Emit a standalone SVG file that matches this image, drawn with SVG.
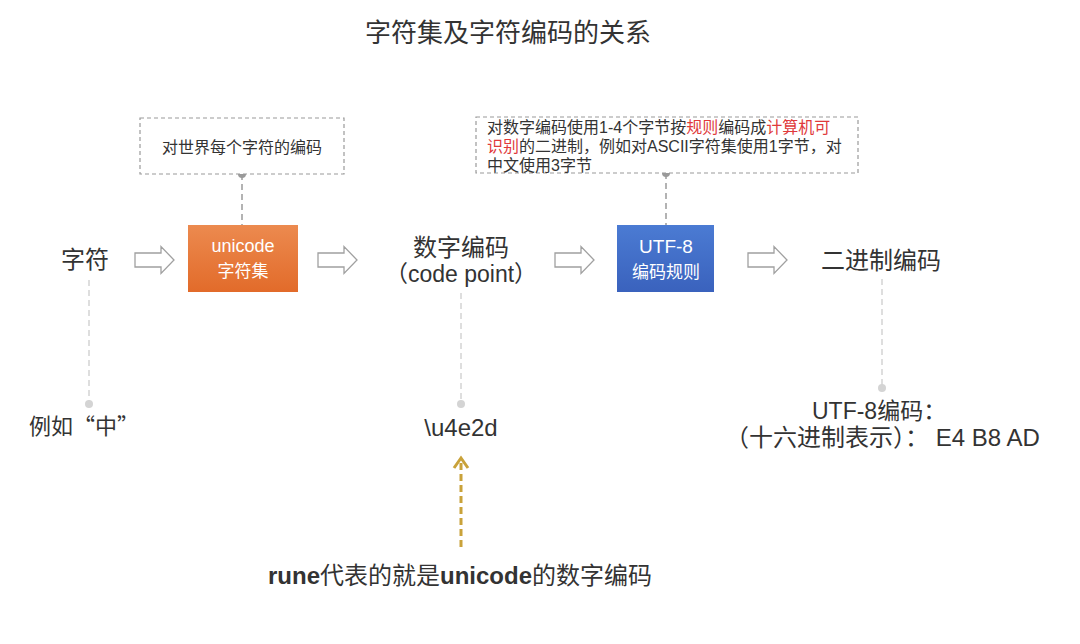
<svg xmlns="http://www.w3.org/2000/svg" width="1080" height="644" viewBox="0 0 1080 644">
<style>
text{font-family:"Liberation Sans","Noto Sans CJK SC",sans-serif;fill:#333}
.cjk{font-family:"Noto Sans CJK SC","Liberation Sans",sans-serif}
.note{fill:#fff;stroke:#9a9a9a;stroke-width:1.2;stroke-dasharray:4 3}
.lead{stroke:#9a9a9a;stroke-width:1.5;stroke-dasharray:6 4;fill:none}
.lead2{stroke:#d4d4d4;stroke-width:1.5;stroke-dasharray:6 4;fill:none}
.dot{fill:#9a9a9a}
.dot2{fill:#d4d4d4}
.harrow{fill:#fff;stroke:#a0a0a0;stroke-width:1.3}
.wt{fill:#fff}
.red{fill:#e0393b}
.gold{stroke:#c9a23a;stroke-width:3;fill:none}
</style>
<defs>
<linearGradient id="gOrange" x1="0" y1="0" x2="0" y2="1">
<stop offset="0" stop-color="#ec8a4f"/>
<stop offset="1" stop-color="#e26b2a"/>
</linearGradient>
<linearGradient id="gBlue" x1="0" y1="0" x2="0" y2="1">
<stop offset="0" stop-color="#4b7bd3"/>
<stop offset="1" stop-color="#3a62bd"/>
</linearGradient>
<path id="hollow" d="M0,-7 H26 V-13.5 L39,0 L26,13.5 V7 H0 Z"/>
</defs>
<rect width="1080" height="644" fill="#fff"/>

<text id="title" class="cjk" x="508" y="42" font-size="26" text-anchor="middle">字符集及字符编码的关系</text>

<g id="connectors">
<line class="lead" x1="242" y1="174" x2="242" y2="225"/>
<circle class="dot" cx="242" cy="174" r="4"/>
<line class="lead" x1="666" y1="173" x2="666" y2="225"/>
<circle class="dot" cx="666" cy="173" r="4"/>
<line class="lead2" x1="89" y1="280" x2="89" y2="402"/>
<circle class="dot2" cx="89" cy="404" r="4"/>
<line class="lead2" x1="461" y1="293" x2="461" y2="402"/>
<circle class="dot2" cx="461" cy="404" r="4"/>
<line class="lead2" x1="882" y1="279" x2="882" y2="386"/>
<circle class="dot2" cx="882" cy="388" r="4"/>
<use href="#hollow" class="harrow" x="135" y="260"/>
<use href="#hollow" class="harrow" x="318" y="260"/>
<use href="#hollow" class="harrow" x="555" y="260"/>
<use href="#hollow" class="harrow" x="748" y="260"/>
<line class="gold" x1="461" y1="547" x2="461" y2="460" stroke-dasharray="7 4"/>
<polyline class="gold" points="454,468 461,458 468,468" stroke-linejoin="miter"/>
</g>

<g id="note-unicode">
<rect class="note" x="140" y="118" width="204" height="56"/>
<text class="cjk" x="242" y="152.5" font-size="16" text-anchor="middle">对世界每个字符的编码</text>
</g>

<g id="note-utf8">
<rect class="note" x="476" y="117" width="382" height="56"/>
<text x="487" y="133" font-size="16"><tspan>对数字编码使用1-4个字节按</tspan><tspan class="red">规则</tspan><tspan>编码成</tspan><tspan class="red">计算机可</tspan></text>
<text x="487" y="152" font-size="16"><tspan class="red">识别</tspan><tspan>的二进制，例如对ASCII字符集使用1字节，对</tspan></text>
<text x="487" y="171" font-size="16">中文使用3字节</text>
</g>

<g id="node-char">
<text class="cjk" x="85" y="268" font-size="24" text-anchor="middle">字符</text>
</g>

<g id="node-unicode">
<rect x="188" y="225" width="110" height="67" fill="url(#gOrange)"/>
<text class="wt" x="243" y="252" font-size="18" text-anchor="middle">unicode</text>
<text class="wt cjk" x="243" y="277" font-size="17" text-anchor="middle">字符集</text>
</g>

<g id="node-codepoint">
<text class="cjk" x="461" y="256" font-size="24" text-anchor="middle">数字编码</text>
<text x="461" y="282" font-size="23" text-anchor="middle">（code point）</text>
</g>

<g id="node-utf8">
<rect x="617" y="225" width="97" height="67" fill="url(#gBlue)"/>
<text class="wt" x="666" y="253" font-size="19" text-anchor="middle">UTF-8</text>
<text class="wt cjk" x="666" y="278" font-size="17" text-anchor="middle">编码规则</text>
</g>

<g id="node-binary">
<text class="cjk" x="881" y="269" font-size="24" text-anchor="middle">二进制编码</text>
</g>

<g id="example-char">
<text class="cjk" x="84" y="434" font-size="22" text-anchor="middle">例如“中”</text>
</g>

<g id="example-codepoint">
<text x="461" y="436" font-size="24" text-anchor="middle">\u4e2d</text>
</g>

<g id="example-utf8">
<text x="812" y="419" font-size="23">UTF-8编码：</text>
<text x="725" y="446" font-size="24">（十六进制表示）： E4 B8 AD</text>
</g>

<g id="rune-note">
<text x="460" y="584" font-size="24" text-anchor="middle"><tspan font-weight="bold">rune</tspan><tspan>代表的就是</tspan><tspan font-weight="bold">unicode</tspan><tspan>的数字编码</tspan></text>
</g>
</svg>
